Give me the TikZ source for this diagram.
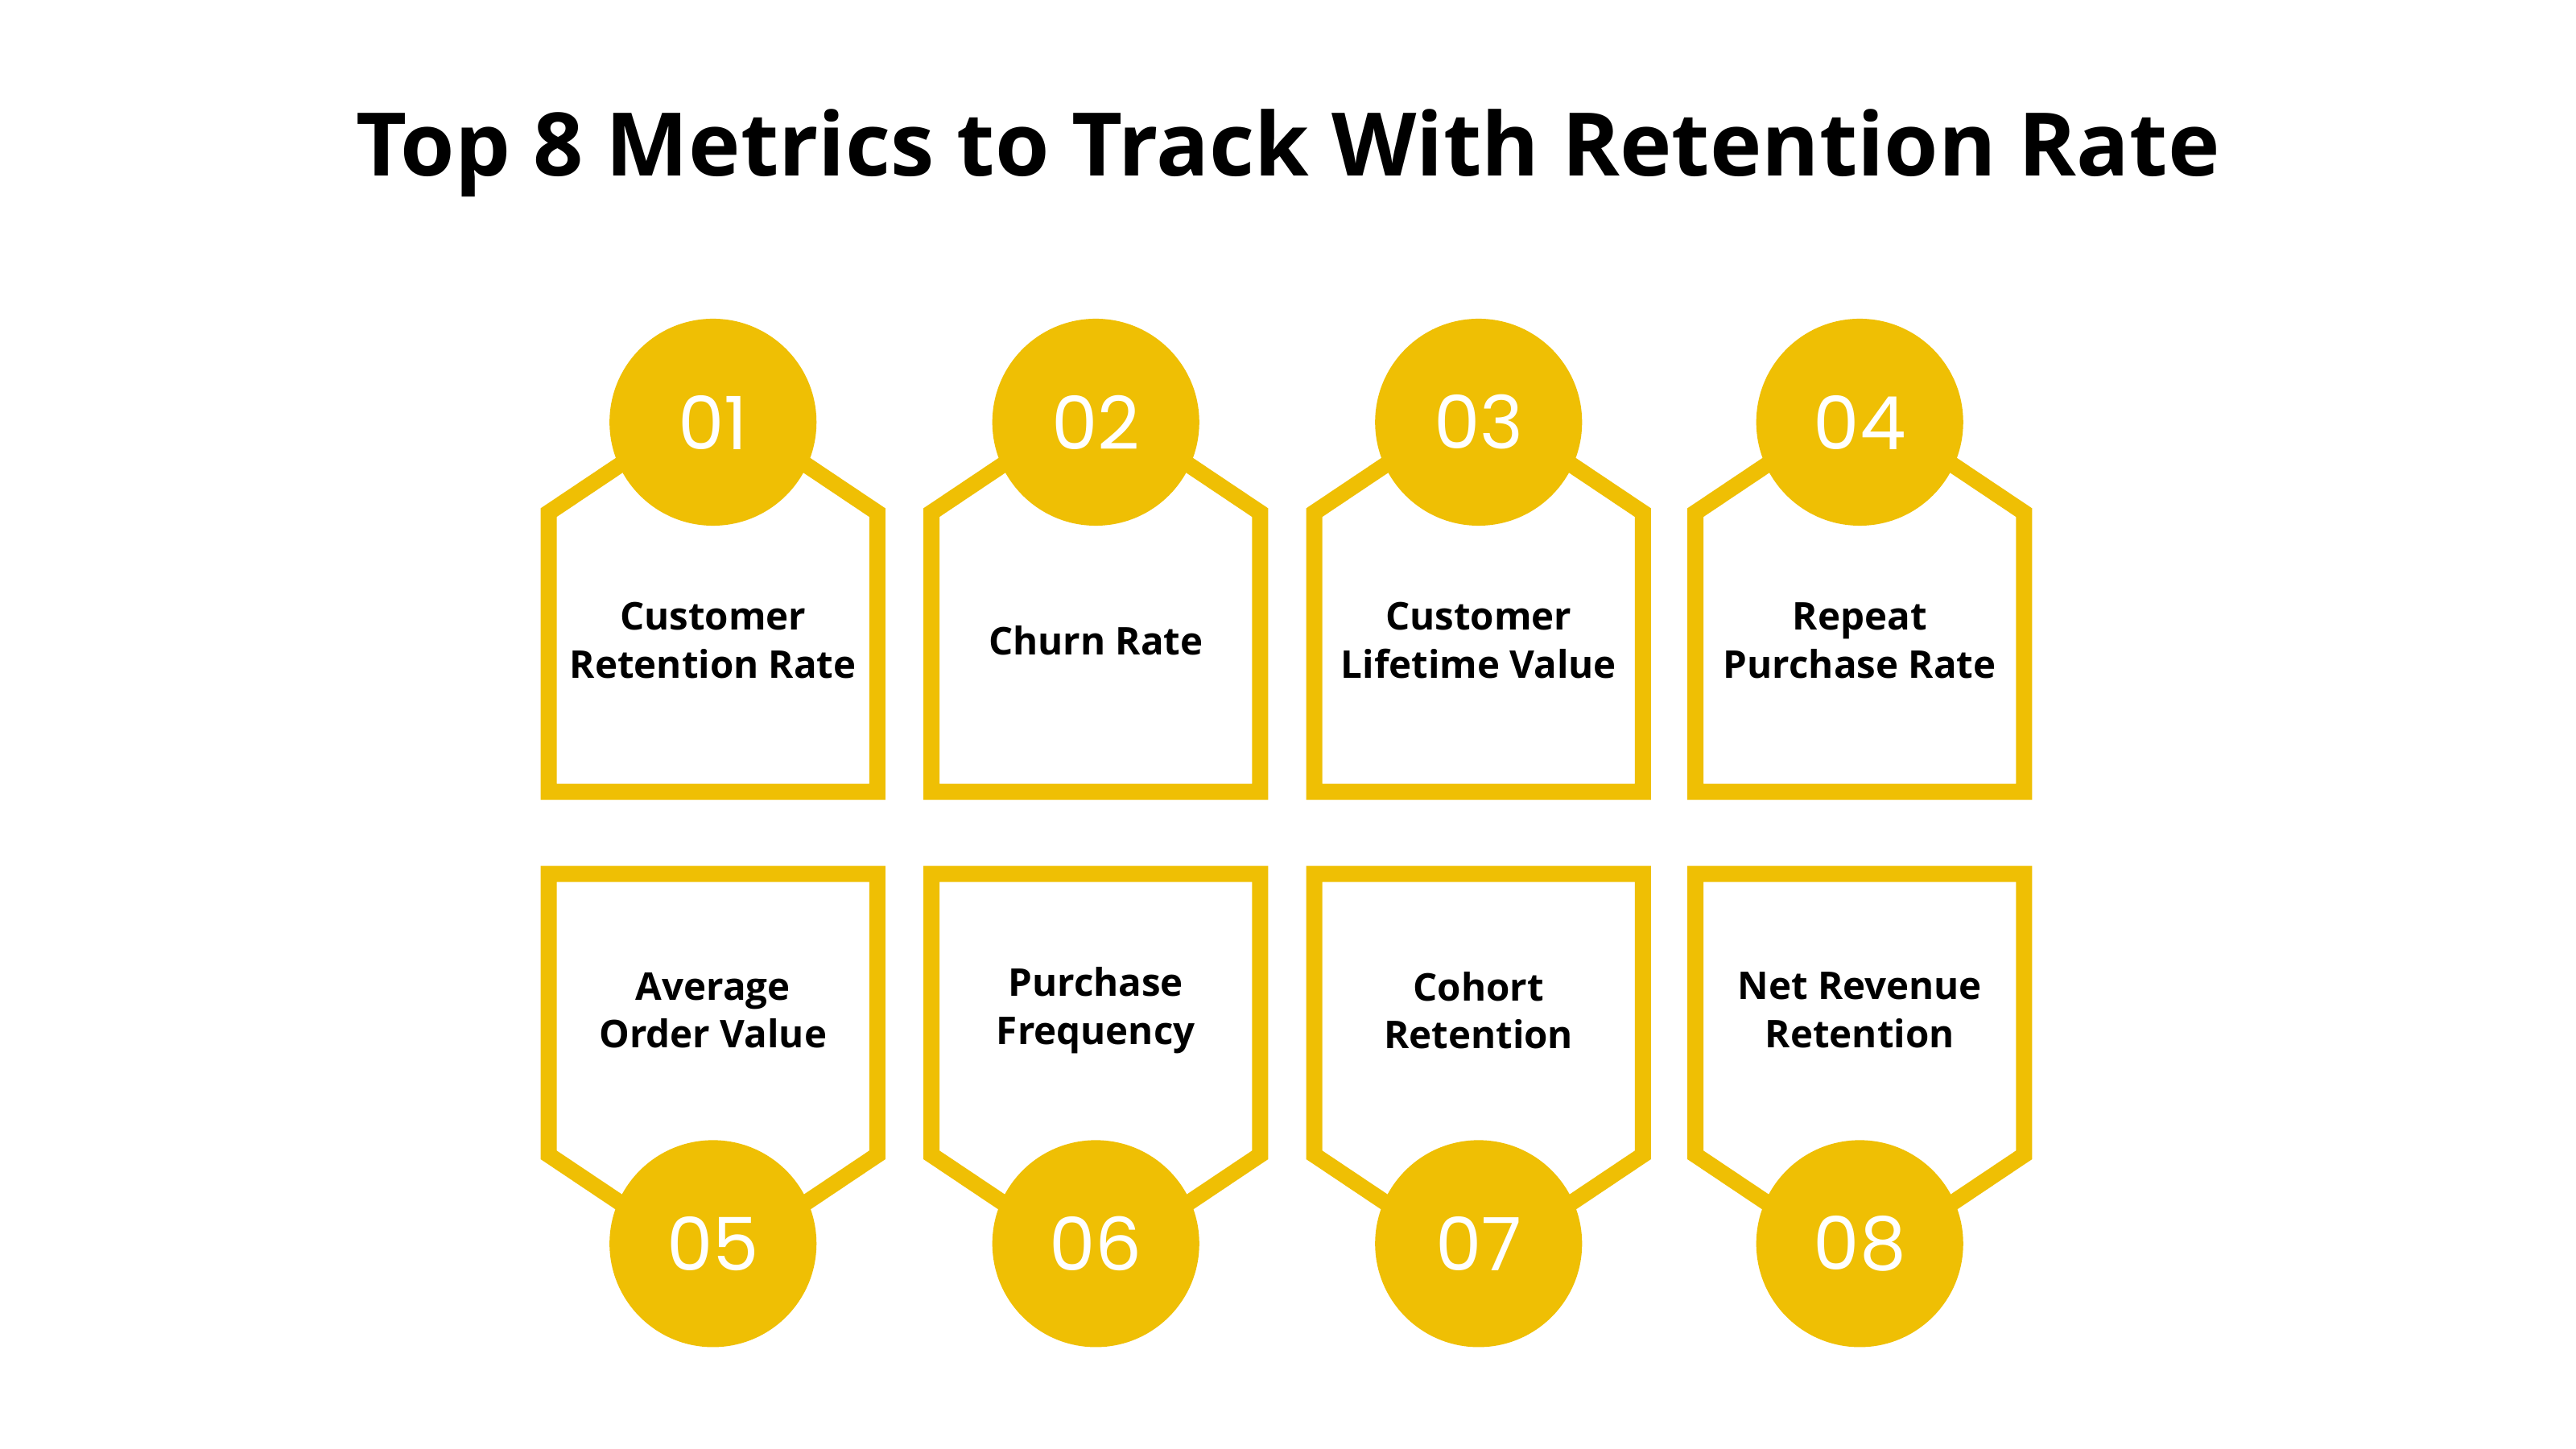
\documentclass[tikz,border=0pt]{standalone}
\usepackage{fontspec}
\setmainfont{Open Sans}
\newfontfamily\numfont{Poppins}
\definecolor{gold}{HTML}{EFBF04}
\tikzset{
  frame/.style={draw=gold, line width=0.2cm, line join=miter},
  badge/.style={circle, fill=gold, minimum size=2.57cm, inner sep=0pt,
    text=white, font=\numfont\fontsize{26}{26}\selectfont},
  label/.style={align=center, font=\fontsize{13.5}{17}\selectfont\bfseries},
}
\begin{document}
\begin{tikzpicture}[x=0.020408cm, y=-0.020408cm]
\useasboundingbox[fill=white] (0,0) rectangle (1568,882);

\node[font=\fontsize{31}{31}\selectfont\bfseries] (title) at (784,93) {Top 8 Metrics to Track With Retention Rate};

% top row
\foreach \x/\n/\t in {434/01/{Customer\\Retention Rate}, 667/02/{Churn Rate},
                      900/03/{Customer\\Lifetime Value}, 1132/04/{Repeat\\Purchase Rate}}
{
    \draw[frame] (\x-100,482) -- (\x-100,312) -- (\x,245) -- (\x+100,312) -- (\x+100,482) -- cycle;
    \node[badge] (b\n) at (\x,257) {\n};
    \node[label] (t\n) at (\x,390) {\t};
}

% bottom row
\foreach \x/\n/\t in {434/05/{Average\\Order Value}, 667/06/{Purchase\\Frequency},
                      900/07/{Cohort\\Retention}, 1132/08/{Net Revenue\\Retention}}
{
    \draw[frame] (\x-100,532) -- (\x-100,703) -- (\x,770) -- (\x+100,703) -- (\x+100,532) -- cycle;
    \node[badge] (b\n) at (\x,757) {\n};
    \node[label] (t\n) at (\x,615) {\t};
}

\end{tikzpicture}
\end{document}
